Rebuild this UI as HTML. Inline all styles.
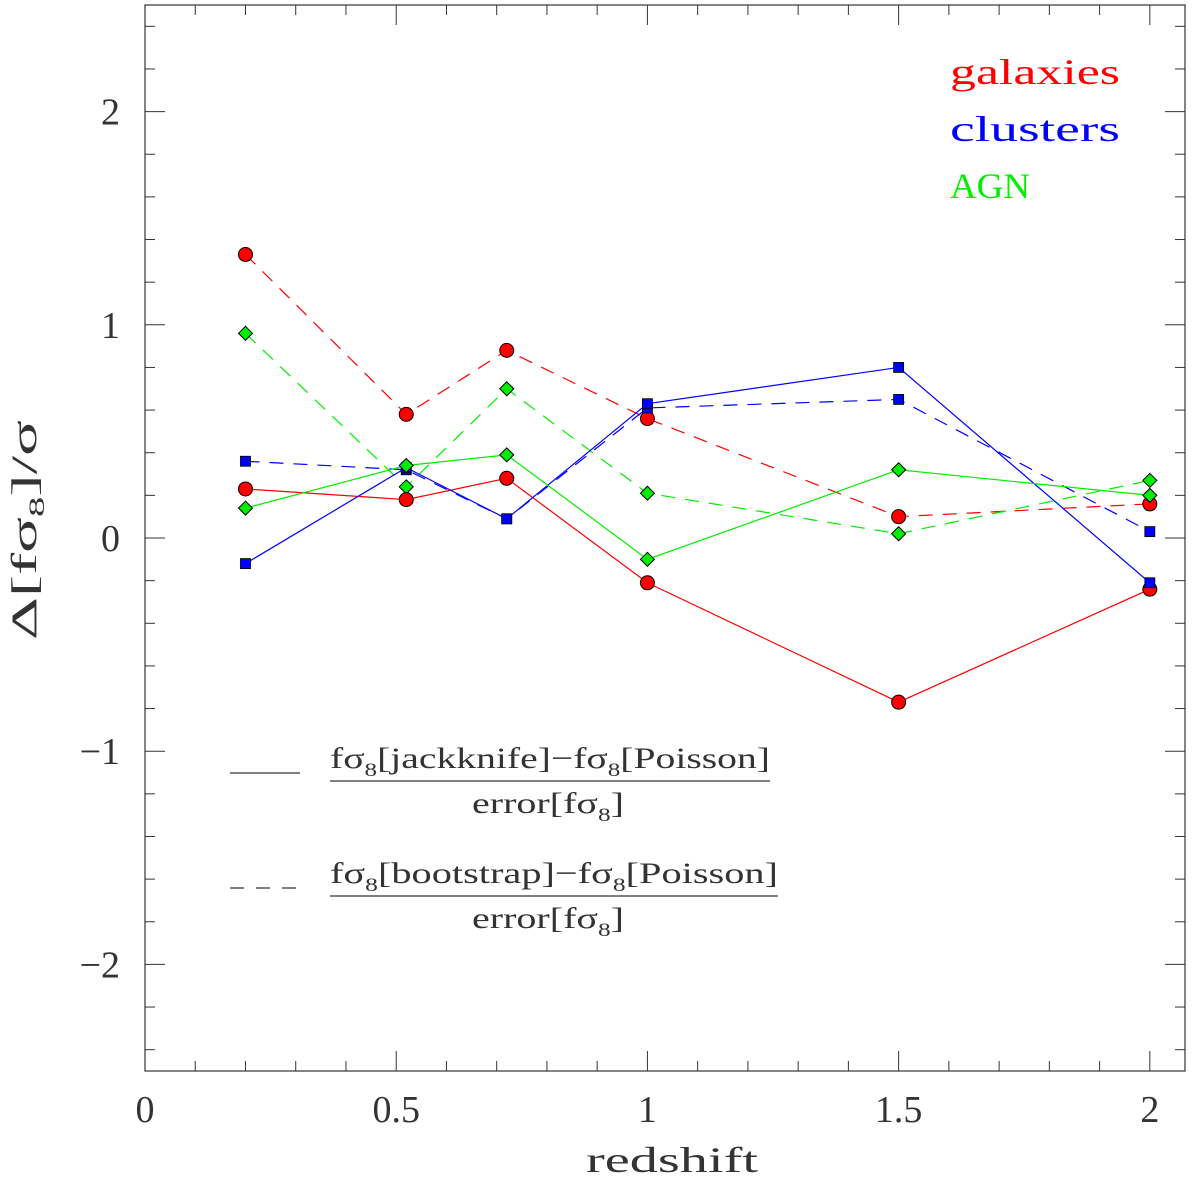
<!DOCTYPE html>
<html><head><meta charset="utf-8">
<style>
body{margin:0;background:#fff;}
svg text{font-family:"Liberation Serif",serif;fill:#333;}
</style></head>
<body>
<svg id="chart" width="1200" height="1174" viewBox="0 0 1200 1174" xmlns="http://www.w3.org/2000/svg">
<g id="axes"></g>
<g id="series"></g>
<text x="950" y="84" font-size="36" textLength="170" lengthAdjust="spacingAndGlyphs" style="fill:#ff0000">galaxies</text>
<text x="950" y="141" font-size="36" textLength="170" lengthAdjust="spacingAndGlyphs" style="fill:#0000ff">clusters</text>
<text x="950" y="198" font-size="36" textLength="80" lengthAdjust="spacingAndGlyphs" style="fill:#00ee00">AGN</text>
<g>
<line x1="230" y1="773" x2="300" y2="773" stroke="#333" stroke-width="1.2"/>
<text x="330" y="768" font-size="30" textLength="440" lengthAdjust="spacingAndGlyphs">fσ<tspan font-size="19" dy="8">8</tspan><tspan dy="-8">[jackknife]−fσ</tspan><tspan font-size="19" dy="8">8</tspan><tspan dy="-8">[Poisson]</tspan></text>
<line x1="330" y1="781" x2="770" y2="781" stroke="#333" stroke-width="1.2"/>
<text x="472" y="813" font-size="30" textLength="152" lengthAdjust="spacingAndGlyphs">error[fσ<tspan font-size="19" dy="8">8</tspan><tspan dy="-8">]</tspan></text>
<line x1="230" y1="888" x2="300" y2="888" stroke="#333" stroke-width="1.2" stroke-dasharray="14,12"/>
<text x="330" y="883" font-size="30" textLength="448" lengthAdjust="spacingAndGlyphs">fσ<tspan font-size="19" dy="8">8</tspan><tspan dy="-8">[bootstrap]−fσ</tspan><tspan font-size="19" dy="8">8</tspan><tspan dy="-8">[Poisson]</tspan></text>
<line x1="330" y1="896" x2="778" y2="896" stroke="#333" stroke-width="1.2"/>
<text x="472" y="928" font-size="30" textLength="152" lengthAdjust="spacingAndGlyphs">error[fσ<tspan font-size="19" dy="8">8</tspan><tspan dy="-8">]</tspan></text>
</g>
<text x="586" y="1172" font-size="36" textLength="172" lengthAdjust="spacingAndGlyphs">redshift</text>
<text transform="translate(36,640) rotate(-90)" font-size="36" textLength="220" lengthAdjust="spacingAndGlyphs">Δ[fσ<tspan font-size="22" dy="8">8</tspan><tspan dy="-8">]/σ</tspan></text>
</svg>
<script>
const redshifts=[0.2,0.52,0.72,1.0,1.5,2.0];
const galSolid=[0.23,0.18,0.28,-0.21,-0.77,-0.24];
const galDashed=[1.33,0.58,0.88,0.56,0.10,0.16];
const cluSolid=[-0.12,0.33,0.09,0.63,0.80,-0.21];
const cluDashed=[0.36,0.32,0.09,0.61,0.65,0.03];
const agnSolid=[0.14,0.34,0.39,-0.10,0.32,0.20];
const agnDashed=[0.96,0.24,0.70,0.21,0.02,0.27];
const xTickLabels=["0","0.5","1","1.5","2"];
const yTickLabels=["−2","−1","0","1","2"];

const NS="http://www.w3.org/2000/svg";
const L=145,R=1185,T=5,B=1071;
const X0=0,X1=2.07,Y0=-2.5,Y1=2.5;
const sx=v=>L+(v-X0)/(X1-X0)*(R-L);
const sy=v=>B-(v-Y0)/(Y1-Y0)*(B-T);
function mk(tag,attrs,parent){const e=document.createElementNS(NS,tag);for(const k in attrs)e.setAttribute(k,attrs[k]);parent.appendChild(e);return e;}
const axes=document.getElementById('axes');
const fr=mk('rect',{x:L,y:T,width:R-L,height:B-T,fill:'none',stroke:'#333','stroke-width':1.2},axes);


for(let i=0;i<=20;i++){const v=i*0.1;const x=sx(v);const len=(i%5===0)?20:10;
 mk('line',{x1:x,y1:B,x2:x,y2:B-len,stroke:'#333','stroke-width':1},axes);
 mk('line',{x1:x,y1:T,x2:x,y2:T+len,stroke:'#333','stroke-width':1},axes);}
xTickLabels.forEach((lab,i)=>{const t=mk('text',{x:sx(i*0.5),y:1122,'font-size':38,'text-anchor':'middle'},axes);t.textContent=lab;
 
 });
for(let i=-12;i<=12;i++){const v=i*0.2;const y=sy(v);const len=(i%5===0)?20:10;
 mk('line',{x1:L,y1:y,x2:L+len,y2:y,stroke:'#333','stroke-width':1},axes);
 mk('line',{x1:R,y1:y,x2:R-len,y2:y,stroke:'#333','stroke-width':1},axes);}
yTickLabels.forEach((lab,i)=>{const t=mk('text',{x:120,y:sy(i-2)+13,'font-size':38,'text-anchor':'end'},axes);t.textContent=lab;
 
 });
const ser=document.getElementById('series');
function draw(vals,color,dashed,marker,name){
 const g=mk('g',{},ser);
 
 
 const pts=vals.map((v,i)=>sx(redshifts[i])+','+sy(v)).join(' ');
 const a={points:pts,fill:'none',stroke:color,'stroke-width':1.2};if(dashed)a['stroke-dasharray']='14,10';
 mk('polyline',a,g);
 vals.forEach((v,i)=>{const x=sx(redshifts[i]),y=sy(v);let m;
  if(marker==='circle')m=mk('circle',{cx:x,cy:y,r:7,fill:color,stroke:'#000','stroke-width':1},g);
  else if(marker==='square')m=mk('rect',{x:x-5,y:y-5,width:10,height:10,fill:color,stroke:'#000','stroke-width':0.8},g);
  else m=mk('polygon',{points:`${x},${y-7} ${x+7},${y} ${x},${y+7} ${x-7},${y}`,fill:color,stroke:'#000','stroke-width':1},g);
  
  });
}
draw(galDashed,'#ff0000',true,'circle','galaxies-bootstrap');
draw(cluDashed,'#0000ff',true,'square','clusters-bootstrap');
draw(agnDashed,'#00ee00',true,'diamond','agn-bootstrap');
draw(galSolid,'#ff0000',false,'circle','galaxies-jackknife');
draw(cluSolid,'#0000ff',false,'square','clusters-jackknife');
draw(agnSolid,'#00ee00',false,'diamond','agn-jackknife');
</script>
</body></html>
